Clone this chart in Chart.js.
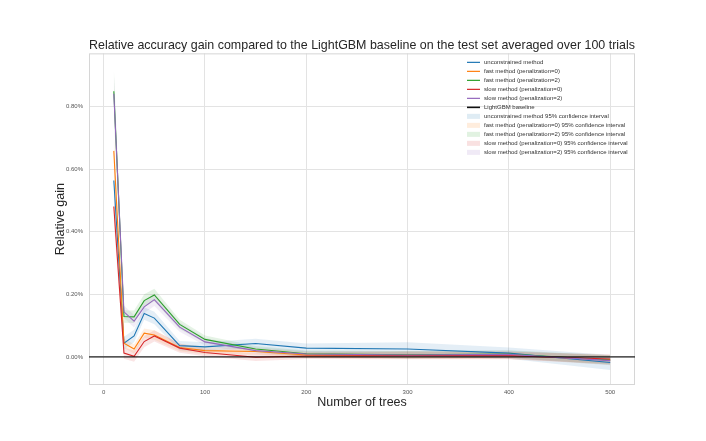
<!DOCTYPE html>
<html>
<head>
<meta charset="utf-8">
<script src="https://cdn.jsdelivr.net/npm/chart.js@4.4.1/dist/chart.umd.min.js"></script>
<style>
  html, body { margin: 0; padding: 0; background: #fff; }
  #wrap { width: 706px; height: 441px; }
</style>
</head>
<body>
<div id="wrap"><canvas id="gain_chart" width="706" height="441"></canvas></div>
<script>
// number of trees (x) and relative gains in percent
const TREES = [10, 20, 30, 40, 50, 75, 100, 150, 200, 300, 400, 500];

const UNCONSTRAINED = [0.564, 0.044, 0.067, 0.139, 0.124, 0.036, 0.032, 0.043, 0.028, 0.025, 0.012, -0.018];
const FAST_PEN0     = [0.659, 0.044, 0.025, 0.076, 0.070, 0.030, 0.020, 0.017, 0.006, 0.006, 0.005, -0.010];
const FAST_PEN2     = [0.850, 0.129, 0.128, 0.180, 0.198, 0.104, 0.056, 0.025, 0.010, 0.007, 0.009, -0.010];
const SLOW_PEN0     = [0.481, 0.012, 0.002, 0.049, 0.067, 0.028, 0.014, -0.001, 0.003, 0.004, 0.004, -0.007];
const SLOW_PEN2     = [0.842, 0.144, 0.114, 0.160, 0.183, 0.095, 0.048, 0.020, 0.009, 0.006, 0.008, -0.012];

// half widths of the 95% confidence intervals (percent)
const UNCONSTRAINED_CI = [0.050, 0.020, 0.020, 0.020, 0.020, 0.015, 0.015, 0.015, 0.015, 0.022, 0.018, 0.024];
const FAST_PEN0_CI     = [0.050, 0.015, 0.015, 0.015, 0.015, 0.012, 0.012, 0.010, 0.010, 0.012, 0.012, 0.015];
const FAST_PEN2_CI     = [0.073, 0.020, 0.020, 0.020, 0.020, 0.015, 0.012, 0.010, 0.010, 0.012, 0.012, 0.015];
const SLOW_PEN0_CI     = [0.050, 0.018, 0.018, 0.018, 0.018, 0.015, 0.012, 0.012, 0.010, 0.012, 0.012, 0.015];
const SLOW_PEN2_CI     = [0.070, 0.020, 0.020, 0.020, 0.020, 0.015, 0.012, 0.010, 0.010, 0.012, 0.012, 0.015];

const SERIES_NAMES = [
  "unconstrained method",
  "fast method (penalization=0)",
  "fast method (penalization=2)",
  "slow method (penalization=0)",
  "slow method (penalization=2)",
];
const BASELINE_NAME = "LightGBM baseline";
const BASELINE = 0;

const X_TICKS = [0, 100, 200, 300, 400, 500];
const Y_TICKS = [0, 0.2, 0.4, 0.6, 0.8];

const TITLE = "Relative accuracy gain compared to the LightGBM baseline on the test set averaged over 100 trials";

const COLORS = ["#1f77b4", "#ff7f0e", "#2ca02c", "#d62728", "#9467bd"];
const FONT = "'Liberation Sans', Arial, sans-serif";

const MEANS = [UNCONSTRAINED, FAST_PEN0, FAST_PEN2, SLOW_PEN0, SLOW_PEN2];
const CIS   = [UNCONSTRAINED_CI, FAST_PEN0_CI, FAST_PEN2_CI, SLOW_PEN0_CI, SLOW_PEN2_CI];

function rgba(hex, a) {
  const n = parseInt(hex.slice(1), 16);
  return `rgba(${(n >> 16) & 255},${(n >> 8) & 255},${n & 255},${a})`;
}

const datasets = [];

// confidence bands: upper filled down to lower
MEANS.forEach((mean, i) => {
  datasets.push({
    label: SERIES_NAMES[i] + " 95% confidence interval",
    data: TREES.map((t, k) => ({ x: t, y: mean[k] + CIS[i][k] })),
    borderWidth: 0, pointRadius: 0, backgroundColor: rgba(COLORS[i], 0.12),
    fill: "+1", order: 50,
  });
  datasets.push({
    label: SERIES_NAMES[i] + " lower",
    data: TREES.map((t, k) => ({ x: t, y: mean[k] - CIS[i][k] })),
    borderWidth: 0, pointRadius: 0, fill: false, order: 50,
  });
});

// mean lines, later series on top like matplotlib
MEANS.forEach((mean, i) => {
  datasets.push({
    label: SERIES_NAMES[i],
    data: TREES.map((t, k) => ({ x: t, y: mean[k] })),
    borderColor: COLORS[i], borderWidth: 1.1, pointRadius: 0,
    fill: false, tension: 0, order: 10 - i,
  });
});

const framePlugin = {
  id: "frame",
  beforeDatasetsDraw(chart) {
    const { ctx, chartArea: a } = chart;
    ctx.save();
    ctx.strokeStyle = "#d6d6d6";
    ctx.lineWidth = 1;
    ctx.strokeRect(a.left + 0.5, a.top + 0.5, a.right - a.left - 1, a.bottom - a.top - 1);
    ctx.restore();
  },
  afterDatasetsDraw(chart) {
    const { ctx, chartArea: a, scales } = chart;
    const y = scales.y.getPixelForValue(BASELINE);
    ctx.save();
    ctx.strokeStyle = "rgba(0,0,0,0.62)";
    ctx.lineWidth = 1.8;
    ctx.beginPath();
    ctx.moveTo(a.left, y);
    ctx.lineTo(a.right, y);
    ctx.stroke();
    ctx.restore();
  },
};

const legendPlugin = {
  id: "insideLegend",
  afterDraw(chart) {
    const { ctx, chartArea: a } = chart;
    const x0 = a.right - 168, x1 = x0 + 13, tx = x0 + 17;
    let y = a.top + 9;
    const step = 9;
    ctx.save();
    ctx.font = `6px ${FONT}`;
    ctx.textBaseline = "middle";
    const row = (draw, text) => {
      draw(y);
      ctx.fillStyle = "#333";
      ctx.fillText(text, tx, y);
      y += step;
    };
    SERIES_NAMES.forEach((name, i) => {
      row((yy) => {
        ctx.strokeStyle = COLORS[i];
        ctx.lineWidth = 1.2;
        ctx.beginPath(); ctx.moveTo(x0, yy); ctx.lineTo(x1, yy); ctx.stroke();
      }, name);
    });
    row((yy) => {
      ctx.strokeStyle = "#111";
      ctx.lineWidth = 1.6;
      ctx.beginPath(); ctx.moveTo(x0, yy); ctx.lineTo(x1, yy); ctx.stroke();
    }, BASELINE_NAME);
    SERIES_NAMES.forEach((name, i) => {
      row((yy) => {
        ctx.fillStyle = rgba(COLORS[i], 0.14);
        ctx.fillRect(x0, yy - 2.5, x1 - x0, 5);
      }, name + " 95% confidence interval");
    });
    ctx.restore();
  },
};

new Chart(document.getElementById("gain_chart").getContext("2d"), {
  type: "line",
  data: { datasets },
  options: {
    responsive: false,
    animation: false,
    layout: { padding: { left: 0, right: 71, top: 0, bottom: 0 } },
    plugins: {
      legend: { display: false },
      tooltip: { enabled: false },
      title: {
        display: true, text: TITLE, fullSize: false,
        color: "#262626", font: { family: FONT, size: 12.8, weight: "normal" },
        padding: { top: 38, bottom: 0 },
      },
    },
    scales: {
      x: {
        type: "linear", min: -14.5, max: 524.5,
        afterBuildTicks: (s) => { s.ticks = X_TICKS.map((v) => ({ value: v })); },
        afterFit: (s) => { s.height = 56; },
        grid: { color: "#e3e3e3", drawTicks: false },
        border: { display: false },
        ticks: { color: "#555", padding: 4, font: { family: FONT, size: 6 } },
        title: {
          display: true, text: "Number of trees", color: "#262626",
          font: { family: FONT, size: 12.5 }, padding: { top: 4, bottom: 31 },
        },
      },
      y: {
        type: "linear", min: -0.09, max: 0.971,
        afterBuildTicks: (s) => { s.ticks = Y_TICKS.map((v) => ({ value: v })); },
        afterFit: (s) => { s.width = 89; },
        grid: { color: "#e3e3e3", drawTicks: false },
        border: { display: false },
        ticks: {
          color: "#555", padding: 6, font: { family: FONT, size: 6 },
          callback: (v) => v.toFixed(2) + "%",
        },
        title: {
          display: true, text: "Relative gain", color: "#262626",
          font: { family: FONT, size: 12.5 }, padding: { top: 53, bottom: 0 },
        },
      },
    },
  },
  plugins: [framePlugin, legendPlugin],
});
</script>
</body>
</html>
